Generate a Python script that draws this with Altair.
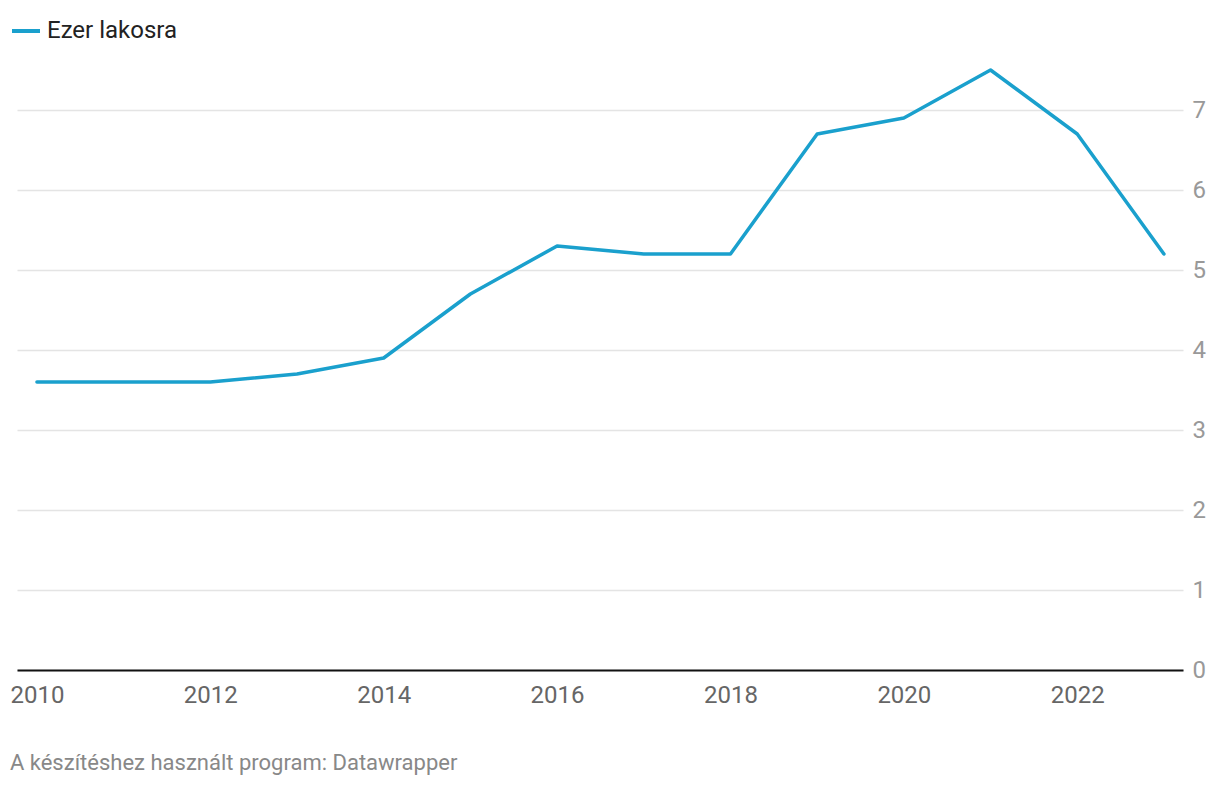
import altair as alt
import pandas as pd

years = [2010, 2011, 2012, 2013, 2014, 2015, 2016, 2017, 2018, 2019, 2020, 2021, 2022, 2023]
values = [3.6, 3.6, 3.6, 3.7, 3.9, 4.7, 5.3, 5.2, 5.2, 6.7, 6.9, 7.5, 6.7, 5.2]
series_name = "Ezer lakosra"
x_ticks = [2010, 2012, 2014, 2016, 2018, 2020, 2022]
y_ticks = [0, 1, 2, 3, 4, 5, 6, 7]

df = pd.DataFrame({"year": years, "value": values, "series": [series_name] * len(years)})

FONT = "Roboto"

chart = alt.Chart(df).mark_line(strokeWidth=3.5, strokeCap="round", strokeJoin="round").encode(
    x=alt.X("year:Q",
            scale=alt.Scale(domain=[2009.77, 2023.22], nice=False, zero=False),
            axis=alt.Axis(values=x_ticks, format="d", title=None, grid=False, ticks=False,
                          domain=True, domainColor="#111111", domainWidth=2,
                          labelFontSize=24, labelColor="#666666", labelFont=FONT,
                          labelPadding=13, labelFlush=False)),
    y=alt.Y("value:Q",
            scale=alt.Scale(domain=[0, 7.5], nice=False),
            axis=alt.Axis(orient="right", values=y_ticks, title=None, domain=False, ticks=False,
                          grid=True, gridColor="#e4e4e4", gridWidth=1.5,
                          labelFontSize=24, labelColor="#999999", labelFont=FONT,
                          labelPadding=9, labelAlign="left")),
    color=alt.Color("series:N",
                    scale=alt.Scale(range=["#1aa0cd"]),
                    legend=alt.Legend(title=None, orient="none", legendX=-7, legendY=-55,
                                      symbolType="stroke", symbolSize=784, symbolStrokeWidth=4,
                                      labelFontSize=24, labelFont=FONT, labelColor="#222222",
                                      labelOffset=5, padding=0)),
).properties(
    width=1166,
    height=600,
    padding={"left": 9, "top": 62, "right": 29, "bottom": 110},
    autosize=alt.AutoSizeParams(type="none"),
    title=alt.TitleParams(text="A készítéshez használt program: Datawrapper", orient="bottom",
                          anchor="start", font=FONT, fontSize=22, fontWeight="normal",
                          color="#888888", dx=0, offset=46),
).configure(background="white").configure_view(stroke=None)

chart.save("out.html", embed_options={"renderer": "svg", "actions": False})
